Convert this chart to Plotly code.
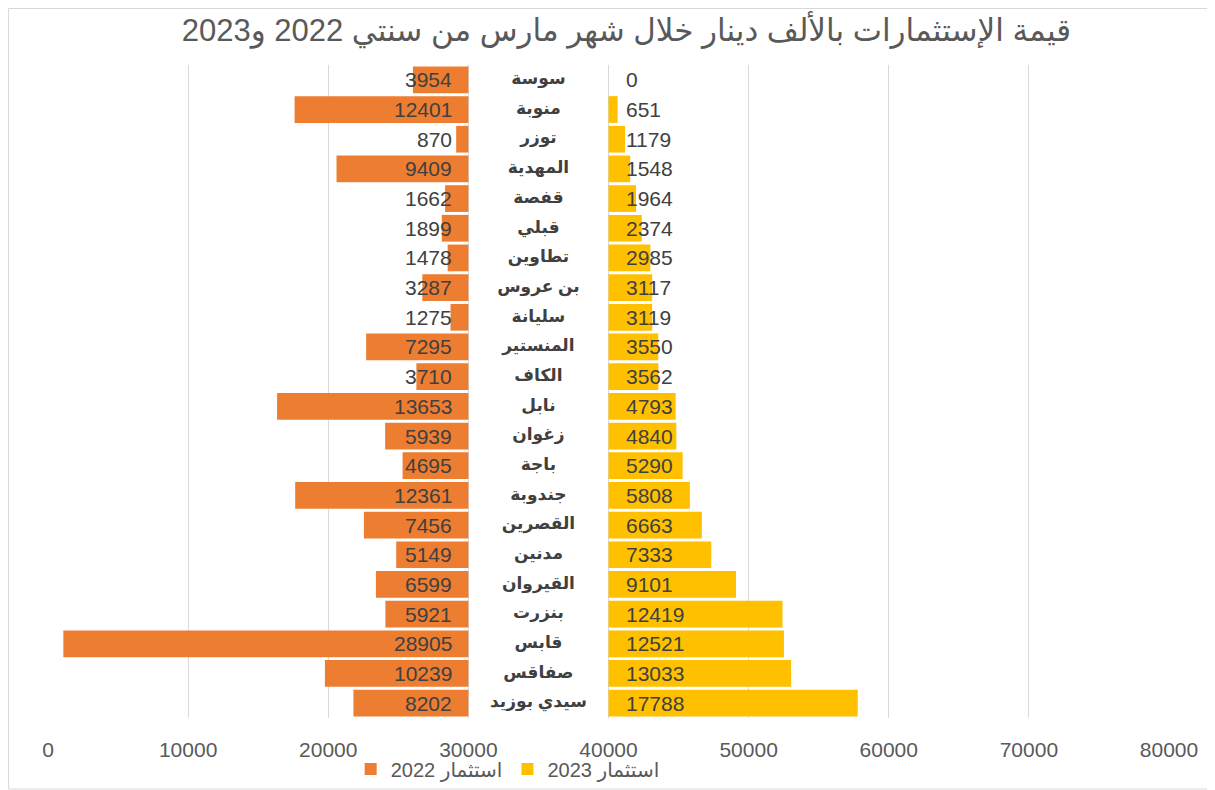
import plotly.graph_objects as go

categories = ["سوسة", "منوبة", "توزر", "المهدية", "قفصة", "قبلي", "تطاوين", "بن عروس",
              "سليانة", "المنستير", "الكاف", "نابل", "زغوان", "باجة", "جندوبة", "القصرين",
              "مدنين", "القيروان", "بنزرت", "قابس", "صفاقس", "سيدي بوزيد"]
inv_2022 = [3954, 12401, 870, 9409, 1662, 1899, 1478, 3287, 1275, 7295, 3710, 13653,
            5939, 4695, 12361, 7456, 5149, 6599, 5921, 28905, 10239, 8202]
inv_2023 = [0, 651, 1179, 1548, 1964, 2374, 2985, 3117, 3119, 3550, 3562, 4793,
            4840, 5290, 5808, 6663, 7333, 9101, 12419, 12521, 13033, 17788]
tick_vals = [0, 10000, 20000, 30000, 40000, 50000, 60000, 70000, 80000]
tick_text = ["0", "10000", "20000", "30000", "40000", "50000", "60000", "70000", "80000"]
series_names = ["استثمار 2022", "استثمار 2023"]
title_text = "قيمة الإستثمارات بالألف دينار خلال شهر مارس من سنتي 2022 و2023"

left_anchor = 30000   # orange bars end here
right_anchor = 40000  # yellow bars start here
label_center = 35000  # category names sit between

FONT = "Liberation Sans, Arial, DejaVu Sans, sans-serif"
ORANGE = "#ED7D31"
YELLOW = "#FFC000"
TEXT = "#404040"
GREY = "#595959"

fig = go.Figure()
fig.add_trace(go.Bar(
    y=categories, x=inv_2022, base=[left_anchor - v for v in inv_2022],
    orientation="h", marker=dict(color=ORANGE, line=dict(width=0)),
    name=series_names[0], hoverinfo="skip"))
fig.add_trace(go.Bar(
    y=categories, x=inv_2023, base=[right_anchor] * len(inv_2023),
    orientation="h", marker=dict(color=YELLOW, line=dict(width=0)),
    name=series_names[1], hoverinfo="skip"))
fig.add_trace(go.Scatter(
    x=[label_center] * len(categories), y=categories, mode="text", text=categories,
    textfont=dict(size=17, color=TEXT, family=FONT, weight="bold"),
    textposition="middle center", showlegend=False, hoverinfo="skip"))

annotations = []
for cat, v in zip(categories, inv_2022):
    annotations.append(dict(x=left_anchor, y=cat, text=str(v), xref="x", yref="y",
                            xanchor="right", yanchor="middle", xshift=-14, showarrow=False,
                            font=dict(size=21, color=TEXT, family=FONT)))
for cat, v in zip(categories, inv_2023):
    annotations.append(dict(x=right_anchor, y=cat, text=str(v), xref="x", yref="y",
                            xanchor="left", yanchor="middle", xshift=15, showarrow=False,
                            font=dict(size=21, color=TEXT, family=FONT)))

fig.update_layout(
    width=1207, height=782,
    margin=dict(l=40, r=46, t=57, b=72, autoexpand=False),
    paper_bgcolor="white", plot_bgcolor="white",
    barmode="overlay", bargap=0.1,
    title=dict(text=title_text, x=0.516, xanchor="center", xref="paper", y=0.972, yanchor="middle",
               yref="container", font=dict(size=31, color=GREY, family=FONT)),
    xaxis=dict(range=[0, 80000], tickvals=tick_vals, ticktext=tick_text, showgrid=True,
               gridcolor="#D9D9D9", gridwidth=1, zeroline=False, showline=False, ticks="",
               ticklabelstandoff=17, automargin=False,
               tickfont=dict(size=21, color=GREY, family=FONT), fixedrange=True),
    yaxis=dict(type="category", categoryorder="array", categoryarray=categories,
               range=[len(categories) - 0.5, -0.5], showticklabels=False, showgrid=False,
               zeroline=False, showline=False, ticks="", fixedrange=True, automargin=False),
    legend=dict(orientation="h", x=0.270, xanchor="left", y=-0.078, yanchor="middle",
                font=dict(size=20, color=GREY, family=FONT), itemwidth=30,
                bgcolor="rgba(0,0,0,0)"),
    annotations=annotations,
    shapes=[dict(type="rect", xref="paper", yref="paper", x0=-0.0352, x1=1.0384,
                 y0=-0.1087, y1=1.0865, line=dict(color="#D9D9D9", width=1), layer="below")],
    showlegend=True,
)
fig.write_html("out.html")
